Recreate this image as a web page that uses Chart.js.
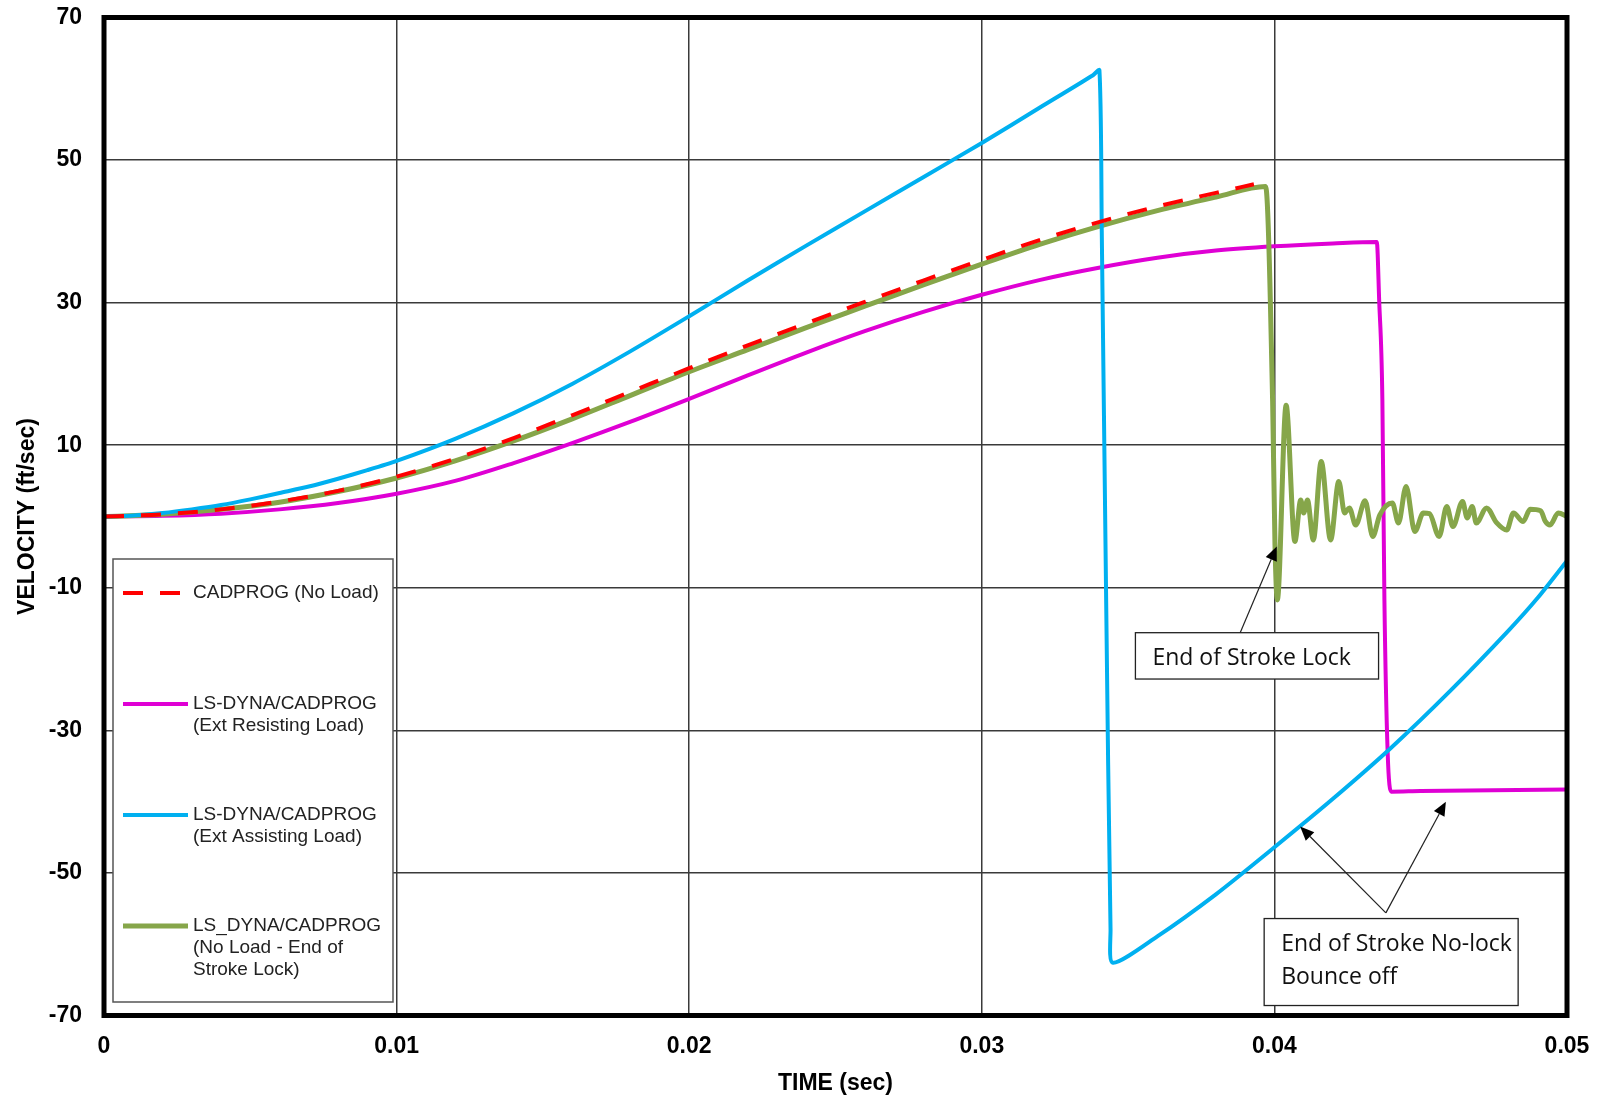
<!DOCTYPE html>
<html lang="en">
<head>
  <meta charset="UTF-8" />
  <title>Velocity vs Time</title>
  <script src="https://cdn.jsdelivr.net/npm/chart.js@4.4.1/dist/chart.umd.min.js"></script>
  <style>
    * { box-sizing: border-box; margin: 0; padding: 0; }
    html, body { width: 1598px; height: 1097px; background: #fff; overflow: hidden; }
    .chart-wrapper { position: relative; width: 1598px; height: 1097px; }
  </style>
</head>
<body>
  <div class="chart-wrapper">
    <canvas id="velocityChart"></canvas>
  </div>

  <script>
    // CADPROG (No Load)
    const cadTime = [0, 0.002, 0.004, 0.006, 0.008, 0.010, 0.012, 0.014, 0.016, 0.018, 0.020,
      0.022, 0.024, 0.026, 0.028, 0.030, 0.032, 0.034, 0.036, 0.038, 0.0393];
    const cadVel = [0, 0.3, 1.0, 2.1, 3.6, 5.6, 8.1, 11.0, 14.2, 17.5, 20.8,
      24.0, 27.1, 30.1, 33.1, 36.0, 38.8, 41.3, 43.5, 45.4, 46.6];

    // LS-DYNA/CADPROG (Ext Resisting Load)
    const resistTime = [0, 0.002, 0.004, 0.006, 0.008, 0.010, 0.012, 0.014, 0.016, 0.018, 0.020,
      0.022, 0.024, 0.026, 0.028, 0.030, 0.032, 0.034, 0.036, 0.038, 0.040, 0.042, 0.0435,
      0.04358, 0.04369, 0.04376, 0.04387, 0.04399, 0.045, 0.050];
    const resistVel = [0, 0.1, 0.4, 1.0, 1.9, 3.2, 5.0, 7.5, 10.3, 13.3, 16.5,
      19.8, 23.0, 26.0, 28.7, 31.1, 33.2, 34.9, 36.3, 37.3, 37.9, 38.3, 38.5,
      30.4, 16.4, -11.7, -33.0, -38.6, -38.5, -38.3];

    // LS-DYNA/CADPROG (Ext Assisting Load)
    const assistTime = [0, 0.001, 0.002, 0.003, 0.004, 0.005, 0.006, 0.007, 0.008, 0.009, 0.010,
      0.012, 0.014, 0.016, 0.018, 0.020,
      0.022, 0.024, 0.026, 0.028, 0.030, 0.032, 0.0338, 0.03402, 0.0341, 0.03425, 0.0344, 0.03448,
      0.036, 0.038, 0.040, 0.042, 0.044, 0.046, 0.048, 0.049, 0.050];
    const assistVel = [0, 0.15, 0.5, 1.0, 1.6, 2.4, 3.3, 4.2, 5.3, 6.5, 7.8,
      10.9, 14.5, 18.6, 23.2, 28.1,
      33.1, 38.0, 42.8, 47.6, 52.4, 57.4, 61.9, 62.6, 40.0, -11.7, -58.0, -62.6,
      -58.9, -53.0, -46.4, -39.6, -32.4, -24.5, -16.0, -11.4, -6.2];

    // LS_DYNA/CADPROG (No Load - End of Stroke Lock)
    const lockTime = [0, 0.002, 0.004, 0.006, 0.008, 0.010, 0.012, 0.014, 0.016, 0.018, 0.020,
      0.022, 0.024, 0.026, 0.028, 0.030, 0.032, 0.034, 0.036, 0.038, 0.0397,
      0.03994, 0.04002, 0.0401, 0.0404, 0.0407, 0.0409, 0.0410, 0.04113, 0.04133, 0.0416,
      0.04192, 0.0422, 0.0424, 0.04256, 0.04278, 0.0431, 0.04336, 0.0436, 0.04403, 0.04424,
      0.0445, 0.0448, 0.04509, 0.0453, 0.04563, 0.04589, 0.0461, 0.04643, 0.04659, 0.04676,
      0.0469, 0.04725, 0.0476, 0.04794, 0.04817, 0.0485, 0.04874, 0.0491, 0.04926, 0.04942,
      0.0497, 0.050];
    const lockVel = [0, 0.3, 1.0, 2.0, 3.5, 5.4, 7.8, 10.6, 13.7, 17.0, 20.3,
      23.4, 26.5, 29.5, 32.5, 35.4, 38.2, 40.7, 42.9, 44.8, 46.3,
      16.0, -4.0, -11.7, 15.6, -3.5, 2.3, 0.5, 2.3, -3.3, 7.7,
      -3.3, 4.9, 0.5, 1.2, -1.2, 2.2, -2.8, 0.2, 1.9, -0.9,
      4.2, -2.1, 0.5, 0.4, -2.8, 1.4, -1.4, 2.1, -0.2, 1.4,
      -0.9, 1.2, -0.9, -1.9, 0.5, -0.7, 1.0, 0.8, -0.7, -1.2,
      0.5, 0.0];

    const legendLines = [
      ['CADPROG (No Load)'],
      ['LS-DYNA/CADPROG', '(Ext Resisting Load)'],
      ['LS-DYNA/CADPROG', '(Ext Assisting Load)'],
      ['LS_DYNA/CADPROG', '(No Load - End of', 'Stroke Lock)']
    ];

    const xTickLabels = ['0', '0.01', '0.02', '0.03', '0.04', '0.05'];

    // callout boxes and arrows, in data units (time, velocity)
    const callouts = [
      { lines: ['End of Stroke Lock'], t0: 0.03525, t1: 0.04356, v0: -16.3, v1: -22.8,
        arrows: [[0.03883, -16.3, 0.04008, -4.2]] },
      { lines: ['End of Stroke No-lock', 'Bounce off'], t0: 0.03965, t1: 0.04833, v0: -56.4, v1: -68.6,
        arrows: [[0.04381, -55.6, 0.04088, -43.5], [0.04381, -55.6, 0.04586, -40.0]] }
    ];

    const AXIS_FONT = '"Liberation Sans", Arial, sans-serif';
    const pts = (t, v) => t.map((x, i) => ({ x: x, y: v[i] }));

    const framePlugin = {
      id: 'frame',
      afterDatasetsDraw(chart) {
        const { ctx, chartArea: a } = chart;
        ctx.save();
        ctx.strokeStyle = '#000';
        ctx.lineWidth = 5;
        ctx.strokeRect(a.left, a.top, a.right - a.left, a.bottom - a.top);
        ctx.restore();
      }
    };

    const legendBoxPlugin = {
      id: 'legendBox',
      afterDatasetsDraw(chart) {
        const { ctx, chartArea: a } = chart;
        const left = a.left + 9, top = a.top + 541.5, w = 280, h = 443;
        ctx.save();
        ctx.fillStyle = '#fff';
        ctx.fillRect(left, top, w, h);
        ctx.strokeStyle = '#555';
        ctx.lineWidth = 1.5;
        ctx.strokeRect(left, top, w, h);
        ctx.font = '19px ' + AXIS_FONT;
        ctx.textBaseline = 'middle';
        chart.data.datasets.forEach((ds, i) => {
          const y = top + 34 + i * 111;
          ctx.beginPath();
          ctx.strokeStyle = ds.borderColor;
          ctx.lineWidth = ds.borderWidth;
          ctx.setLineDash(ds.borderDash || []);
          ctx.moveTo(left + 10, y);
          ctx.lineTo(left + 75, y);
          ctx.stroke();
          ctx.setLineDash([]);
          ctx.fillStyle = '#222';
          legendLines[i].forEach((txt, j) => ctx.fillText(txt, left + 80, y + j * 22));
        });
        ctx.restore();
      }
    };

    function arrow(ctx, x1, y1, x2, y2) {
      const ang = Math.atan2(y2 - y1, x2 - x1);
      const len = 14, half = 6;
      ctx.beginPath();
      ctx.moveTo(x1, y1);
      ctx.lineTo(x2 - Math.cos(ang) * len, y2 - Math.sin(ang) * len);
      ctx.stroke();
      ctx.beginPath();
      ctx.moveTo(x2, y2);
      ctx.lineTo(x2 - Math.cos(ang) * len - Math.sin(ang) * half, y2 - Math.sin(ang) * len + Math.cos(ang) * half);
      ctx.lineTo(x2 - Math.cos(ang) * len + Math.sin(ang) * half, y2 - Math.sin(ang) * len - Math.cos(ang) * half);
      ctx.closePath();
      ctx.fill();
    }

    const calloutPlugin = {
      id: 'callouts',
      afterDatasetsDraw(chart) {
        const { ctx, scales: { x, y } } = chart;
        ctx.save();
        callouts.forEach(c => {
          const l = x.getPixelForValue(c.t0), r = x.getPixelForValue(c.t1);
          const t = y.getPixelForValue(c.v0), b = y.getPixelForValue(c.v1);
          ctx.fillStyle = '#fff';
          ctx.fillRect(l, t, r - l, b - t);
          ctx.strokeStyle = '#222';
          ctx.lineWidth = 1.3;
          ctx.strokeRect(l, t, r - l, b - t);
          ctx.fillStyle = '#111';
          ctx.font = '23px "Open Sans", "Noto Sans", sans-serif';
          ctx.textBaseline = 'middle';
          c.lines.forEach((txt, j) => ctx.fillText(txt, l + 17, t + 26 + j * 33));
          ctx.fillStyle = '#000';
          ctx.strokeStyle = '#222';
          ctx.lineWidth = 1.2;
          c.arrows.forEach(a => arrow(ctx,
            x.getPixelForValue(a[0]), y.getPixelForValue(a[1]),
            x.getPixelForValue(a[2]), y.getPixelForValue(a[3])));
        });
        ctx.restore();
      }
    };

    const tickFont = { family: AXIS_FONT, size: 23, weight: 'bold' };
    const titleFont = { family: AXIS_FONT, size: 23, weight: 'bold' };

    new Chart(document.getElementById('velocityChart'), {
      type: 'line',
      data: {
        datasets: [
          { label: legendLines[0].join(' '), data: pts(cadTime, cadVel), borderColor: '#ff0000',
            borderWidth: 4, borderDash: [20, 17], order: 0 },
          { label: legendLines[1].join(' '), data: pts(resistTime, resistVel), borderColor: '#df00d4',
            borderWidth: 4, order: 3 },
          { label: legendLines[2].join(' '), data: pts(assistTime, assistVel), borderColor: '#00b0f0',
            borderWidth: 4, order: 1, cubicInterpolationMode: 'default', tension: 0.25 },
          { label: legendLines[3].join(' '), data: pts(lockTime, lockVel), borderColor: '#86a64a',
            borderWidth: 5, order: 2 }
        ]
      },
      options: {
        responsive: true,
        maintainAspectRatio: false,
        animation: false,
        layout: { padding: { top: 17.5, right: 31, bottom: 0, left: 0 } },
        elements: {
          point: { radius: 0 },
          line: { cubicInterpolationMode: 'monotone', fill: false, borderCapStyle: 'butt', borderJoinStyle: 'round' }
        },
        plugins: {
          legend: { display: false },
          tooltip: { enabled: false }
        },
        scales: {
          x: {
            type: 'linear',
            min: 0,
            max: 0.05,
            afterFit: s => { s.height = 81.5; s.paddingLeft = 0; s.paddingRight = 0; },
            ticks: {
              stepSize: 0.01,
              padding: 17,
              color: '#000',
              font: tickFont,
              maxRotation: 0,
              callback: (v) => xTickLabels[Math.round(v / 0.01)]
            },
            grid: { color: '#3a3a3a', lineWidth: 1.5, drawTicks: false },
            border: { display: false },
            title: { display: true, text: 'TIME (sec)', color: '#000', font: titleFont, padding: { top: 0, bottom: 0 } }
          },
          y: {
            type: 'linear',
            min: -70,
            max: 70,
            afterFit: s => { s.width = 104; s.paddingTop = 0; s.paddingBottom = 0; },
            ticks: { stepSize: 20, padding: 22, color: '#000', font: tickFont },
            grid: { color: '#3a3a3a', lineWidth: 1.5, drawTicks: false },
            border: { display: false },
            title: { display: true, text: 'VELOCITY (ft/sec)', color: '#000', font: titleFont, padding: { top: 14, bottom: 0 } }
          }
        }
      },
      plugins: [legendBoxPlugin, calloutPlugin, framePlugin]
    });
  </script>
</body>
</html>
